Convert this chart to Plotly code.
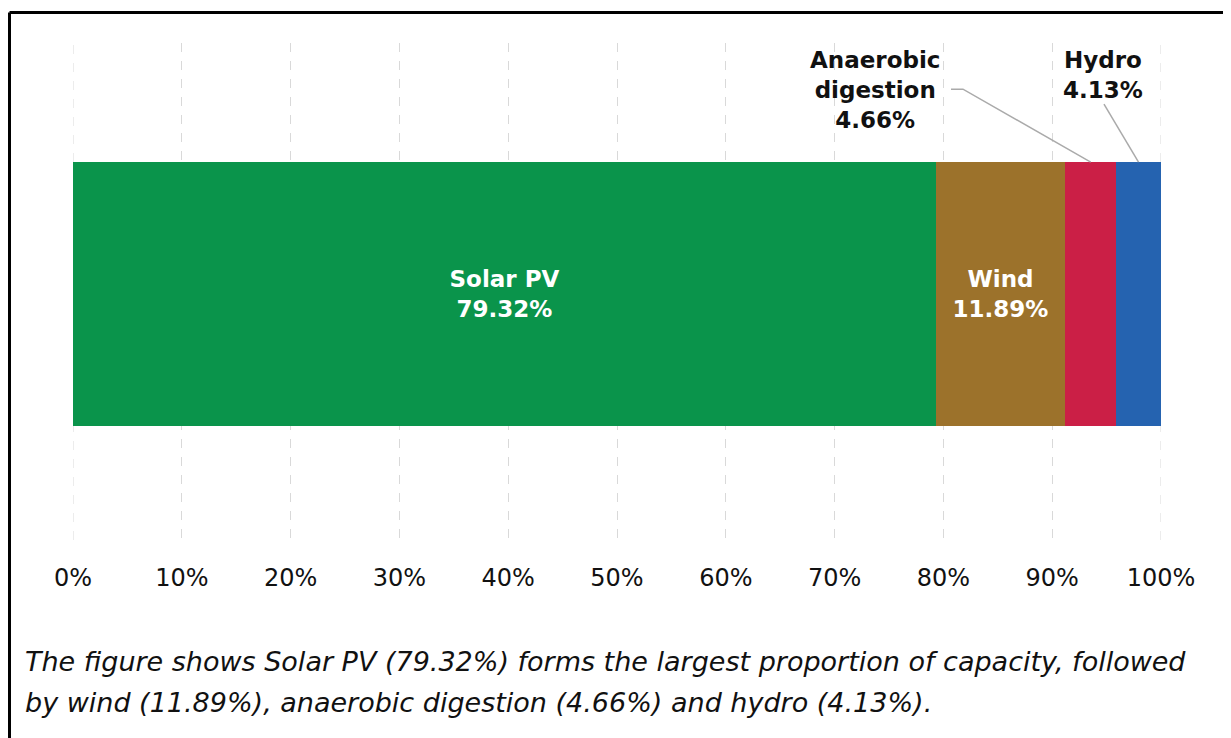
import plotly.graph_objects as go

sources = ["Solar PV", "Wind", "Anaerobic digestion", "Hydro"]
shares = [79.32, 11.89, 4.66, 4.13]
colors = ["#0a944b", "#9c722b", "#cb1f46", "#2563b0"]
tick_vals = [0, 10, 20, 30, 40, 50, 60, 70, 80, 90, 100]
tick_text = ["0%", "10%", "20%", "30%", "40%", "50%", "60%", "70%", "80%", "90%", "100%"]
caption_lines = [
    "The figure shows Solar PV (79.32%) forms the largest proportion of capacity, followed",
    "by wind (11.89%), anaerobic digestion (4.66%) and hydro (4.13%).",
]

FONT = "Verdana, DejaVu Sans, sans-serif"
BAR_W = 0.531
GRID_COL = "#d9d9d9"

fig = go.Figure()

for tv in (tick_vals[0], tick_vals[-1]):
    fig.add_shape(type="line", xref="x", yref="paper", x0=tv, x1=tv, y0=0, y1=1,
                  line=dict(color=GRID_COL, width=1, dash="dash"), layer="below")

inside = {"Solar PV", "Wind"}
for name, val, col in zip(sources, shares, colors):
    label = f"<b>{name}<br>{val:.2f}%</b>" if name in inside else ""
    fig.add_trace(go.Bar(
        x=[val], y=[0], orientation="h", name=name,
        marker=dict(color=col, line=dict(width=0)),
        width=BAR_W,
        text=[label], textposition="inside", insidetextanchor="middle",
        textangle=0, constraintext="none",
        textfont=dict(color="white", size=23, family=FONT),
        hoverinfo="skip",
    ))

starts = []
acc = 0
for v in shares:
    starts.append(acc)
    acc += v
centers = [s + v / 2 for s, v in zip(starts, shares)]
bar_top = BAR_W / 2

line_col = "#aaaaaa"
ad = 2
fig.add_shape(type="path", xref="x", yref="y",
              path=f"M 80.7,0.412 L 81.8,0.412 L {centers[ad]},{bar_top}",
              line=dict(color=line_col, width=1.5))
hy = 3
fig.add_shape(type="line", xref="x", yref="y",
              x0=94.76, y0=0.382, x1=centers[hy], y1=bar_top,
              line=dict(color=line_col, width=1.5))

fig.add_annotation(x=73.7, y=(540 - 90) / 497, xref="x", yref="paper",
                   xanchor="center", yanchor="middle",
                   text=f"<b>Anaerobic<br>digestion<br>{shares[ad]:.2f}%</b>",
                   showarrow=False, align="center",
                   font=dict(size=23, color="#111111", family=FONT))
fig.add_annotation(x=94.67, y=(540 - 75) / 497, xref="x", yref="paper",
                   xanchor="center", yanchor="middle",
                   text=f"<b>Hydro<br>{shares[hy]:.2f}%</b>",
                   showarrow=False, align="center",
                   font=dict(size=23, color="#111111", family=FONT))

for line, py in zip(caption_lines, [661, 702]):
    fig.add_annotation(x=(23 - 73) / 1088, y=(540 - py) / 497, xref="paper", yref="paper",
                       text=f"<i>{line}</i>", showarrow=False, xanchor="left", yanchor="middle",
                       font=dict(size=27, color="#111111", family=FONT))

bx = (9.5 - 73) / 1088
by = (540 - 12.5) / 497
fig.add_shape(type="line", xref="paper", yref="paper", x0=bx, y0=by, x1=1.2, y1=by,
              line=dict(color="black", width=3))
fig.add_shape(type="line", xref="paper", yref="paper", x0=bx, y0=by, x1=bx, y1=-0.6,
              line=dict(color="black", width=3))

fig.update_layout(
    width=1231, height=738,
    barmode="stack", bargap=0,
    showlegend=False,
    plot_bgcolor="white", paper_bgcolor="white",
    margin=dict(l=65, r=78, t=35, b=206),
    font=dict(family=FONT, color="#111111"),
    xaxis=dict(range=[0, 100], tickvals=tick_vals, ticktext=tick_text,
               showgrid=True, gridcolor=GRID_COL, gridwidth=1, griddash="dash",
               zeroline=False, showline=False, ticks="",
               tickfont=dict(size=24, color="#111111", family=FONT),
               ticklabelstandoff=21),
    yaxis=dict(range=[-0.495, 0.505], visible=False),
)

fig.write_html("out.html")
